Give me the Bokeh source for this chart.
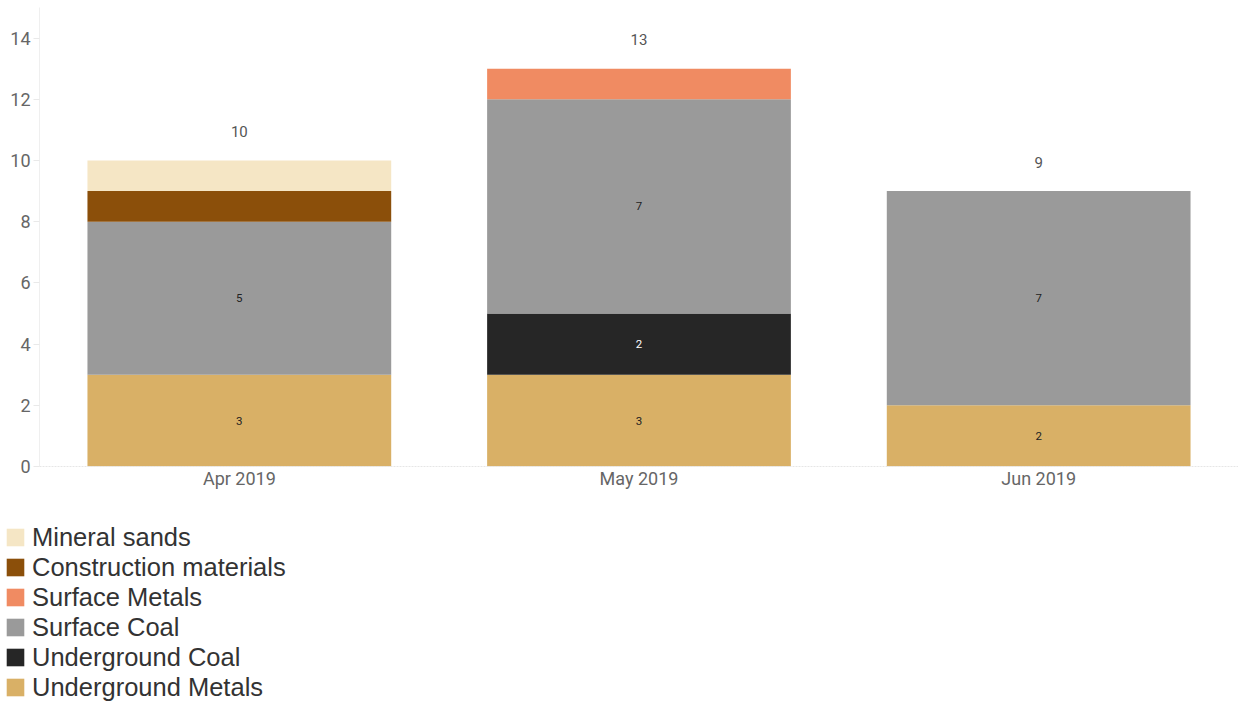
from bokeh.plotting import figure
from bokeh.layouts import column
from bokeh.models import ColumnDataSource, FactorRange, Range1d, Legend, LegendItem, FixedTicker
from bokeh.core.properties import value
from bokeh.embed import file_html
from bokeh.resources import INLINE

# ---- data ----
months = ["Apr 2019", "May 2019", "Jun 2019"]
underground_metals = [3, 3, 2]
underground_coal = [0, 2, 0]
surface_coal = [5, 7, 7]
surface_metals = [0, 1, 0]
construction_materials = [1, 0, 0]
mineral_sands = [1, 0, 0]

series_names = ["Underground Metals", "Underground Coal", "Surface Coal",
                "Surface Metals", "Construction materials", "Mineral sands"]
series_keys = ["um", "uc", "sc", "sm", "cm", "ms"]
series_values = [underground_metals, underground_coal, surface_coal,
                 surface_metals, construction_materials, mineral_sands]
series_colors = ["#d9b066", "#262626", "#9a9a9a", "#f08b62", "#8b4f0a", "#f5e6c5"]
label_colors = ["#222222", "#ffffff", "#222222", "#222222", "#ffffff", "#222222"]
y_ticks = [0, 2, 4, 6, 8, 10, 12, 14]

data = {"month": months}
for k, v in zip(series_keys, series_values):
    data[k] = v
source = ColumnDataSource(data)

# ---- main chart ----
p = figure(x_range=FactorRange(factors=months, range_padding=0),
           y_range=Range1d(0, 15),
           width=1238, height=500,
           output_backend="svg", toolbar_location=None,
           min_border_left=39, min_border_right=0, min_border_top=7,
           min_border_bottom=34)
p.frame_align = False
p.outline_line_color = None
p.background_fill_color = "white"
p.border_fill_color = "white"
p.xgrid.grid_line_color = None
p.ygrid.grid_line_color = None

p.vbar_stack(series_keys, x="month", width=0.76, source=source,
             fill_color=series_colors, line_color=None)

# segment labels
lx, ly, lt, lc = [], [], [], []
for i, m in enumerate(months):
    base = 0
    for vals, col in zip(series_values, label_colors):
        v = vals[i]
        if v > 1:
            lx.append(m)
            ly.append(base + v / 2)
            lt.append(str(v))
            lc.append(col)
        base += v
seg_src = ColumnDataSource(dict(x=lx, y=ly, text=lt, color=lc))
p.text(x="x", y="y", text="text", text_color="color", source=seg_src,
       text_align="center", text_baseline="middle",
       text_font=value("Roboto"), text_font_size="11.5px")

# totals
totals = [sum(vals[i] for vals in series_values) for i in range(len(months))]
tot_src = ColumnDataSource(dict(x=months, y=totals, text=[str(t) for t in totals]))
p.text(x="x", y="y", text="text", source=tot_src, y_offset=-29,
       text_align="center", text_baseline="middle", text_color="#555555",
       text_font=value("Roboto"), text_font_size="15px")

# axes
p.yaxis.ticker = FixedTicker(ticks=y_ticks)
p.yaxis.axis_line_color = "#efefef"
p.yaxis.major_tick_line_color = "#e9e9e9"
p.yaxis.major_tick_out = 6
p.yaxis.major_tick_in = 0
p.yaxis.minor_tick_line_color = None
p.yaxis.major_label_standoff = 3
p.yaxis.major_label_text_font = "Roboto"
p.yaxis.major_label_text_font_size = "18px"
p.yaxis.major_label_text_color = "#666666"

p.xaxis.axis_line_color = "#e6e6e6"
p.xaxis.axis_line_dash = "2 1"
p.xaxis.major_tick_line_color = None
p.xaxis.major_tick_out = 0
p.xaxis.major_label_standoff = 1
p.xaxis.major_label_text_font = "Roboto"
p.xaxis.major_label_text_font_size = "18px"
p.xaxis.major_label_text_color = "#666666"

# ---- legend panel ----
lg = figure(x_range=p.x_range, y_range=p.y_range, width=1238, height=206,
            output_backend="svg", toolbar_location=None,
            x_axis_location=None, y_axis_location=None,
            min_border_left=0, min_border_right=0, min_border_top=0,
            min_border_bottom=0)
lg.frame_align = False
lg.outline_line_color = None
lg.grid.visible = False
lg_renderers = lg.vbar_stack(series_keys, x="month", width=0.76, source=source,
                             fill_color=series_colors, line_color=None)
for r in lg_renderers:
    r.visible = False

items = [LegendItem(label=n, renderers=[r])
         for n, r in reversed(list(zip(series_names, lg_renderers)))]
legend = Legend(items=items, location=(4, 4), orientation="vertical",
                glyph_width=22, glyph_height=22, label_height=30, spacing=0,
                padding=0, margin=0, label_standoff=6,
                label_text_font="Liberation Sans", label_text_font_size="25.5px",
                label_text_color="#333333", click_policy="none",
                background_fill_alpha=0, border_line_color=None)
lg.add_layout(legend)

layout = column(p, lg, spacing=0)
open("out.html", "w").write(file_html(layout, INLINE))
